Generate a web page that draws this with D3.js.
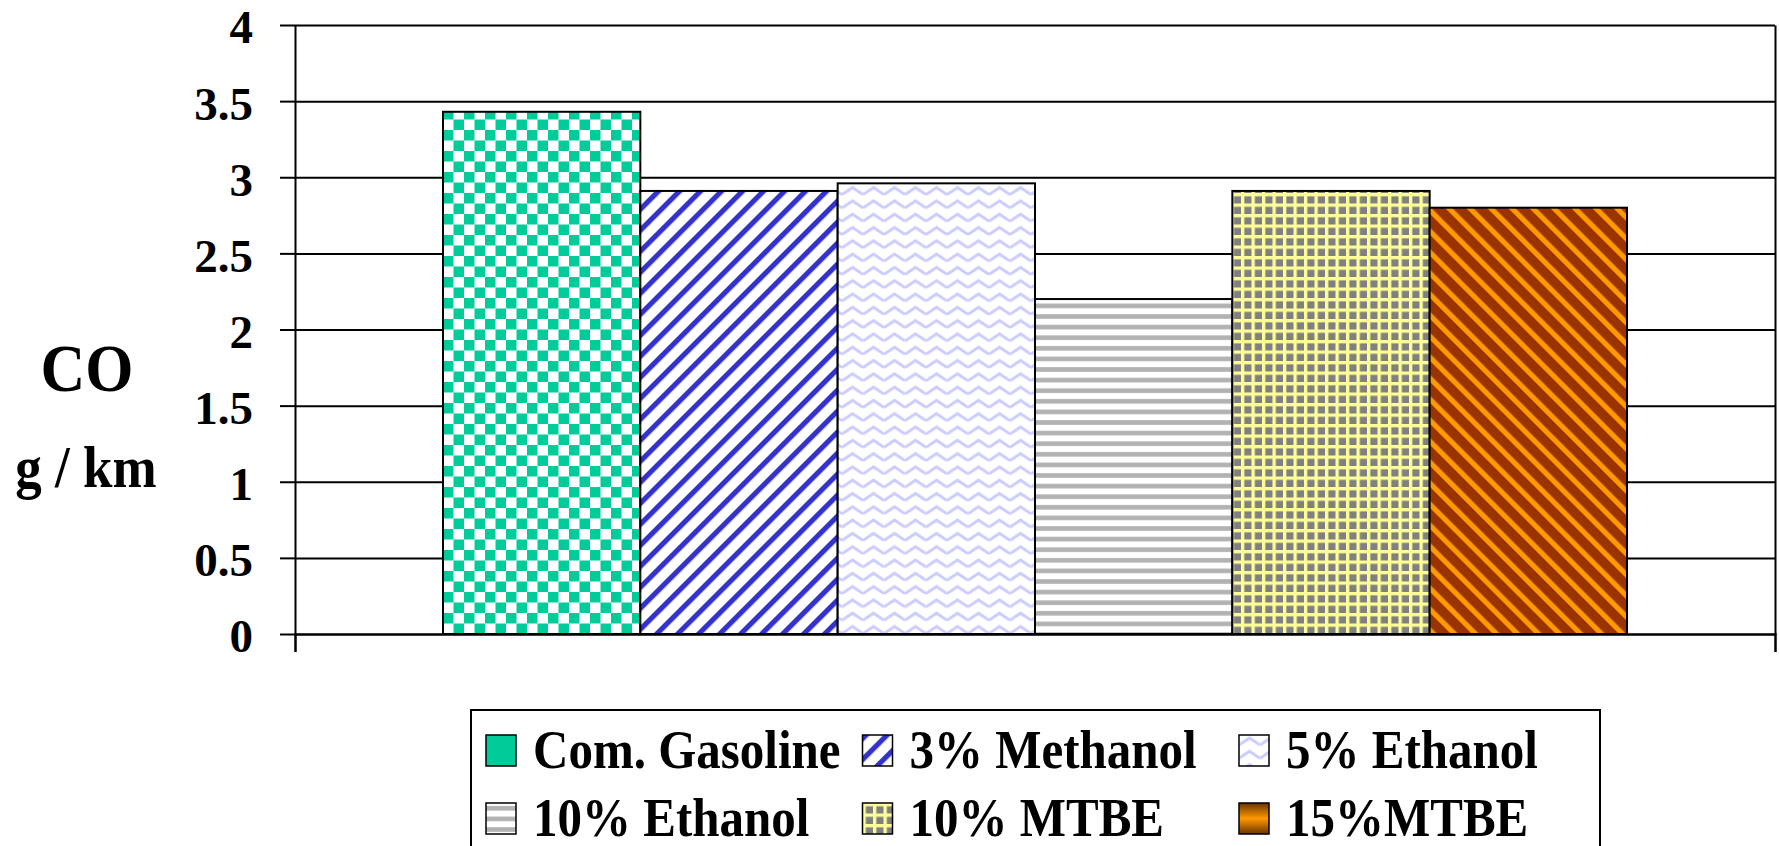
<!DOCTYPE html>
<html>
<head>
<meta charset="utf-8">
<script src="https://cdn.jsdelivr.net/npm/d3@7"></script>
<style>
  body { margin: 0; background: #fff; }
  svg text { font-family: "Liberation Serif", "Times New Roman", serif; font-weight: bold; fill: #000; }
</style>
</head>
<body>
<div id="vis"></div>
<script>
// fuels and CO emissions (g/km)
var fuels = ['Com. Gasoline', '3% Methanol', '5% Ethanol', '10% Ethanol', '10% MTBE', '15%MTBE'];
var coValues = [3.43, 2.91, 2.96, 2.2, 2.91, 2.8];
var yTicks = [0, 0.5, 1, 1.5, 2, 2.5, 3, 3.5, 4];
var yTickLabels = ['0', '0.5', '1', '1.5', '2', '2.5', '3', '3.5', '4'];
var categories = [''];

// svg size
var width = 1779;
var height = 846;

var margin = { top: 25, left: 295, right: 4, bottom: 212 };
var drawWidth = width - margin.left - margin.right;
var drawHeight = height - margin.top - margin.bottom;

var svg = d3.select('#vis')
    .append('svg')
    .attr('width', width)
    .attr('height', height);

/******** fill patterns ********/
var defs = svg.append('defs');

// checkerboard
var p1 = defs.append('pattern').attr('id', 'pat0')
    .attr('patternUnits', 'userSpaceOnUse').attr('width', 21).attr('height', 21);
p1.append('rect').attr('width', 21).attr('height', 21).attr('fill', '#fff');
p1.append('rect').attr('width', 10.5).attr('height', 10.5).attr('fill', '#00CC99');
p1.append('rect').attr('x', 10.5).attr('y', 10.5).attr('width', 10.5).attr('height', 10.5).attr('fill', '#00CC99');

// blue "/" stripes
var p2 = defs.append('pattern').attr('id', 'pat1')
    .attr('patternUnits', 'userSpaceOnUse').attr('width', 14.85).attr('height', 14.85)
    .attr('patternTransform', 'rotate(45)');
p2.append('rect').attr('width', 14.85).attr('height', 14.85).attr('fill', '#fff');
p2.append('rect').attr('width', 5.2).attr('height', 14.85).attr('fill', '#3333CC');

// lavender zigzag
var p3 = defs.append('pattern').attr('id', 'pat2')
    .attr('patternUnits', 'userSpaceOnUse').attr('width', 21).attr('height', 13.3);
p3.append('rect').attr('width', 21).attr('height', 13.3).attr('fill', '#fff');
p3.append('path').attr('d', 'M0,10 L10.5,3 L21,10')
    .attr('fill', 'none').attr('stroke', '#CCCCFF').attr('stroke-width', 3);

// gray horizontal stripes
var p4 = defs.append('pattern').attr('id', 'pat3')
    .attr('patternUnits', 'userSpaceOnUse').attr('width', 10.5).attr('height', 10.6);
p4.append('rect').attr('width', 10.5).attr('height', 10.6).attr('fill', '#fff');
p4.append('rect').attr('y', 3).attr('width', 10.5).attr('height', 4.6).attr('fill', '#B2B2B2');

// gray / yellow grid
var p5 = defs.append('pattern').attr('id', 'pat4')
    .attr('patternUnits', 'userSpaceOnUse').attr('width', 10.5).attr('height', 10.5);
p5.append('rect').attr('width', 10.5).attr('height', 10.5).attr('fill', '#FFFF99');
p5.append('rect').attr('x', 3.3).attr('y', 3.3).attr('width', 7.2).attr('height', 7.2).attr('fill', '#808080');

// orange "\" stripes on brown
var p6 = defs.append('pattern').attr('id', 'pat5')
    .attr('patternUnits', 'userSpaceOnUse').attr('width', 14.85).attr('height', 14.85)
    .attr('patternTransform', 'rotate(-45)');
p6.append('rect').attr('width', 14.85).attr('height', 14.85).attr('fill', '#993300');
p6.append('rect').attr('width', 5.2).attr('height', 14.85).attr('fill', '#FF9900');

// legend swatch for 15%MTBE
var grad = defs.append('linearGradient').attr('id', 'mtbeGrad')
    .attr('x1', 0).attr('y1', 0).attr('x2', 0).attr('y2', 1);
grad.append('stop').attr('offset', '0%').attr('stop-color', '#6b3300');
grad.append('stop').attr('offset', '50%').attr('stop-color', '#FF9900');
grad.append('stop').attr('offset', '100%').attr('stop-color', '#6b3300');

var barFills = ['url(#pat0)', 'url(#pat1)', 'url(#pat2)', 'url(#pat3)', 'url(#pat4)', 'url(#pat5)'];
var legendFills = ['#00CC99', 'url(#pat1)', 'url(#pat2)', 'url(#pat3)', 'url(#pat4)', 'url(#mtbeGrad)'];

var g = svg.append('g')
    .attr('transform', 'translate(' + margin.left + ',' + margin.top + ')');

/******** scales ********/
var x0 = d3.scaleBand()
    .domain(categories)
    .range([0, drawWidth])
    .paddingInner(0)
    .paddingOuter(0.125);

var x1 = d3.scaleBand()
    .domain(fuels)
    .range([0, x0.bandwidth()])
    .padding(0);

var yScale = d3.scaleLinear()
    .domain([0, 4])
    .range([drawHeight, 0]);

/******** gridlines ********/
g.append('g')
    .attr('class', 'grid')
    .call(d3.axisLeft(yScale).tickValues(yTicks.slice(1)).tickSize(-drawWidth).tickFormat(''))
    .call(function(s) {
        s.select('.domain').remove();
        s.selectAll('line').attr('stroke', '#000').attr('stroke-width', 2);
    });

// right border
g.append('g')
    .attr('transform', 'translate(' + drawWidth + ',0)')
    .call(d3.axisRight(yScale).tickValues([]).tickSizeOuter(0))
    .call(function(s) { s.select('.domain').attr('stroke', '#000').attr('stroke-width', 2); });

/******** bars ********/
var bars = g.selectAll('.cat')
    .data(categories)
    .enter()
    .append('g')
    .attr('transform', function(d) { return 'translate(' + x0(d) + ',0)'; });

bars.selectAll('rect')
    .data(fuels.map(function(f, i) { return { fuel: f, value: coValues[i], i: i }; }))
    .enter()
    .append('rect')
    .attr('x', function(d) { return x1(d.fuel); })
    .attr('y', function(d) { return yScale(d.value); })
    .attr('width', x1.bandwidth())
    .attr('height', function(d) { return drawHeight - yScale(d.value); })
    .attr('fill', function(d) { return barFills[d.i]; })
    .attr('stroke', '#000')
    .attr('stroke-width', 2);

/******** axes ********/
var yAxis = d3.axisLeft(yScale)
    .tickValues(yTicks)
    .tickFormat(function(d, i) { return yTickLabels[i]; })
    .tickSizeInner(15)
    .tickSizeOuter(0)
    .tickPadding(27);

g.append('g')
    .call(yAxis)
    .call(function(s) {
        s.selectAll('line, .domain').attr('stroke', '#000').attr('stroke-width', 2);
        s.selectAll('text')
            .attr('font-size', 47)
            .attr('dy', '0.38em')
            .attr('font-family', '"Liberation Serif", "Times New Roman", serif')
            .attr('font-weight', 'bold')
            .attr('fill', '#000');
    });

var xAxis = d3.axisBottom(x0)
    .tickValues([])
    .tickSizeOuter(18);

g.append('g')
    .attr('transform', 'translate(0,' + drawHeight + ')')
    .call(xAxis)
    .call(function(s) { s.select('.domain').attr('stroke', '#000').attr('stroke-width', 2.5); });

/******** y axis title ********/
svg.append('text')
    .attr('transform', 'translate(87,391) scale(1,1.1)')
    .attr('text-anchor', 'middle')
    .attr('font-size', 62)
    .text('CO');

svg.append('text')
    .attr('transform', 'translate(86,487) scale(1,1.1)')
    .attr('text-anchor', 'middle')
    .attr('font-size', 53)
    .text('g / km');

/******** legend ********/
var legend = svg.append('g').attr('transform', 'translate(471,710)');

legend.append('rect')
    .attr('width', 1129)
    .attr('height', 170)
    .attr('fill', '#fff')
    .attr('stroke', '#000')
    .attr('stroke-width', 2);

var items = legend.selectAll('.item')
    .data(fuels)
    .enter()
    .append('g')
    .attr('class', 'item')
    .attr('transform', function(d, i) {
        return 'translate(' + (15 + (i % 3) * 376.5) + ',' + (25 + Math.floor(i / 3) * 68) + ')';
    });

items.append('rect')
    .attr('width', 30)
    .attr('height', 31)
    .attr('fill', function(d, i) { return legendFills[i]; })
    .attr('stroke', '#000')
    .attr('stroke-width', 1.5);

items.append('text')
    .attr('transform', 'translate(47,33) scale(1,1.12)')
    .attr('font-size', 49)
    .text(function(d) { return d; });
</script>
</body>
</html>
